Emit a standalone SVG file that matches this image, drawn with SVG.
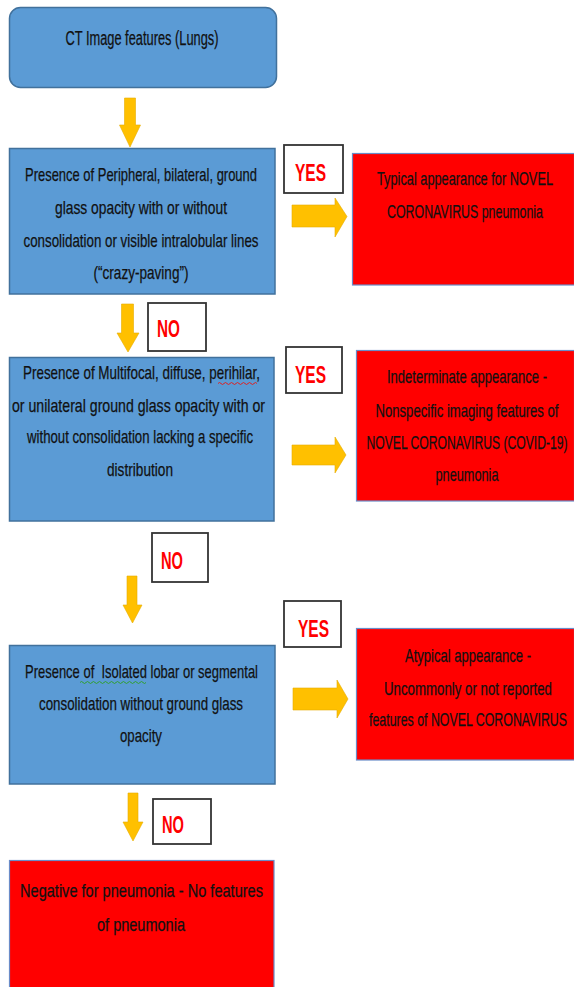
<svg xmlns="http://www.w3.org/2000/svg" width="574" height="987" viewBox="0 0 574 987">
<style>
.blue{fill:#5B9BD5;stroke:#41719C;stroke-width:1.5}
.red{fill:#FF0000;stroke:#6A8CC8;stroke-width:1.2}
.lbl{fill:#FFFFFF;stroke:#333333;stroke-width:1.8}
.arr{fill:#FFC000;stroke:#E5AC00;stroke-width:0.6}
.t{font-family:"Liberation Sans",Arial,sans-serif;font-size:19px;fill:#111111;stroke:#111111;stroke-width:0.25;text-anchor:middle}
.big{font-size:20px}
.yn{font-family:"Liberation Sans",Arial,sans-serif;font-size:24px;font-weight:bold;fill:#FF0000}
.sq{fill:none;stroke-width:1}
</style>
<rect width="574" height="987" fill="#FFFFFF"/>
<g id="start">
<rect class="blue" x="9.5" y="7.5" width="267" height="80" rx="11"/>
<text class="t big" x="142" y="45" textLength="153" lengthAdjust="spacingAndGlyphs">CT Image features (Lungs)</text>
</g>
<g id="q1">
<rect class="blue" x="9.5" y="148.5" width="265.5" height="145.5"/>
<text class="t" x="141" y="181" textLength="232" lengthAdjust="spacingAndGlyphs">Presence of Peripheral, bilateral, ground</text>
<text class="t" x="141" y="214" textLength="172" lengthAdjust="spacingAndGlyphs">glass opacity with or without</text>
<text class="t" x="141" y="247" textLength="235" lengthAdjust="spacingAndGlyphs">consolidation or visible intralobular lines</text>
<text class="t" x="141" y="279" textLength="95" lengthAdjust="spacingAndGlyphs">(“crazy-paving”)</text>
</g>
<g id="r1">
<rect class="red" x="352.5" y="153.5" width="222" height="131.5"/>
<text class="t" x="465" y="185" textLength="176" lengthAdjust="spacingAndGlyphs">Typical appearance for NOVEL</text>
<text class="t" x="465" y="218" textLength="156" lengthAdjust="spacingAndGlyphs">CORONAVIRUS pneumonia</text>
</g>
<g id="q2">
<rect class="blue" x="9.5" y="357.5" width="264.5" height="163.5"/>
<text class="t" x="141.5" y="379" textLength="237" lengthAdjust="spacingAndGlyphs">Presence of Multifocal, diffuse, perihilar,</text>
<text class="t" x="138.5" y="412" textLength="253" lengthAdjust="spacingAndGlyphs">or unilateral ground glass opacity with or</text>
<text class="t" x="140" y="443" textLength="226" lengthAdjust="spacingAndGlyphs">without consolidation lacking a specific</text>
<text class="t" x="140" y="476" textLength="66" lengthAdjust="spacingAndGlyphs">distribution</text>
<path class="sq" stroke="#E02020" d="M218 383.5 q1.5 -2 3 0 t3 0 t3 0 t3 0 t3 0 t3 0 t3 0 t3 0 t3 0 t3 0 t3 0 t3 0 t3 0"/>
</g>
<g id="r2">
<rect class="red" x="356.5" y="350.5" width="218" height="150.5"/>
<text class="t" x="467" y="383" textLength="160" lengthAdjust="spacingAndGlyphs">Indeterminate appearance -</text>
<text class="t" x="467" y="417" textLength="183" lengthAdjust="spacingAndGlyphs">Nonspecific imaging features of</text>
<text class="t" x="467" y="449" textLength="201" lengthAdjust="spacingAndGlyphs">NOVEL CORONAVIRUS (COVID-19)</text>
<text class="t" x="467" y="481" textLength="63" lengthAdjust="spacingAndGlyphs">pneumonia</text>
</g>
<g id="q3">
<rect class="blue" x="9.5" y="645.5" width="265.5" height="138.5"/>
<text class="t" x="141.5" y="678" textLength="233" lengthAdjust="spacingAndGlyphs" xml:space="preserve">Presence of  Isolated lobar or segmental</text>
<text class="t" x="141" y="710" textLength="204" lengthAdjust="spacingAndGlyphs">consolidation without ground glass</text>
<text class="t" x="141" y="742" textLength="42" lengthAdjust="spacingAndGlyphs">opacity</text>
<path class="sq" stroke="#30A030" d="M80 682.5 q1.5 -2 3 0 t3 0 t3 0 t3 0 t3 0 t3 0 t3 0 t3 0 t3 0 t3 0 t3 0 t3 0 t3 0 t3 0 t3 0 t3 0 t3 0 t3 0 t3 0 t3 0 t3 0 t3 0"/>
</g>
<g id="r3">
<rect class="red" x="356.5" y="628.5" width="218" height="131.5"/>
<text class="t" x="468" y="662" textLength="126" lengthAdjust="spacingAndGlyphs">Atypical appearance -</text>
<text class="t" x="468" y="695" textLength="168" lengthAdjust="spacingAndGlyphs">Uncommonly or not reported</text>
<text class="t" x="468" y="726" textLength="198" lengthAdjust="spacingAndGlyphs">features of NOVEL CORONAVIRUS</text>
</g>
<g id="r4">
<rect class="red" x="9.5" y="860.5" width="264.5" height="130"/>
<text class="t" x="141.5" y="897" textLength="243" lengthAdjust="spacingAndGlyphs">Negative for pneumonia - No features</text>
<text class="t" x="141" y="931" textLength="88" lengthAdjust="spacingAndGlyphs">of pneumonia</text>
</g>
<g id="labels">
<rect class="lbl" x="284" y="145" width="59" height="48"/>
<text class="yn" x="295" y="181" textLength="31" lengthAdjust="spacingAndGlyphs">YES</text>
<rect class="lbl" x="286" y="347" width="56" height="46"/>
<text class="yn" x="295" y="383" textLength="31" lengthAdjust="spacingAndGlyphs">YES</text>
<rect class="lbl" x="284" y="601" width="57" height="46"/>
<text class="yn" x="298" y="637" textLength="31" lengthAdjust="spacingAndGlyphs">YES</text>
<rect class="lbl" x="148" y="303" width="58" height="48"/>
<text class="yn" x="157" y="337" textLength="23" lengthAdjust="spacingAndGlyphs">NO</text>
<rect class="lbl" x="152" y="533" width="56" height="49"/>
<text class="yn" x="161" y="569" textLength="22" lengthAdjust="spacingAndGlyphs">NO</text>
<rect class="lbl" x="153" y="799" width="58" height="45"/>
<text class="yn" x="162" y="833" textLength="22" lengthAdjust="spacingAndGlyphs">NO</text>
</g>
<g id="connectors">
<polygon class="arr" points="124.5,98 135.5,98 135.5,125 140.5,125 130,147 119.5,125 124.5,125"/>
<polygon class="arr" points="121.5,304 133.5,304 133.5,333 139,333 128,352 117,333 121.5,333"/>
<polygon class="arr" points="127,576 137,576 137,605 142,605 132.5,623 123,605 127,605"/>
<polygon class="arr" points="128,793 138,793 138,822 143,822 133,841 123,822 128,822"/>
<polygon class="arr" points="292,205 335,205 335,198 347,216.5 335,237 335,227 292,227"/>
<polygon class="arr" points="292,445 335,445 335,437 346,455 335,473 335,465 292,465"/>
<polygon class="arr" points="293,688 337,688 337,680 348,699 337,718 337,710 293,710"/>
</g>
</svg>
